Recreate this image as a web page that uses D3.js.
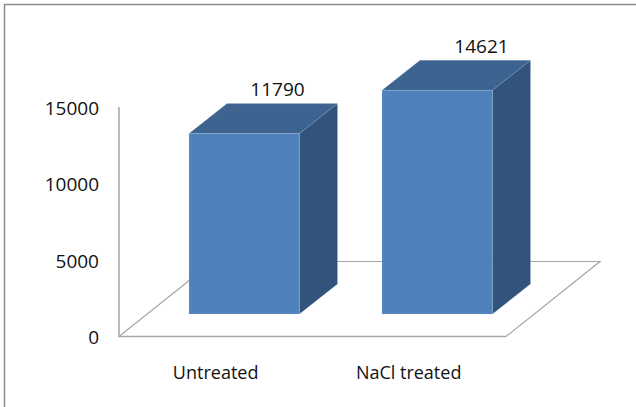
<!DOCTYPE html>
<html><head><meta charset="utf-8">
<script src="https://cdn.jsdelivr.net/npm/d3@7"></script>
<style>html,body{margin:0;padding:0;background:#fff}svg{display:block}text{font-family:"Open Sans",sans-serif;fill:#111}</style>
</head><body><svg id="c" width="636" height="407"></svg>
<script>
const categories = ["Untreated", "NaCl treated"];
const values = [11790, 14621];
const yTicks = [0, 5000, 10000, 15000];

const svg = d3.select("#c");
const W = 636, H = 407;
const axisX = 119, floorY = 336.5, topY = 107;
const depthX = 38, depthY = 30;        // oblique projection of the depth axis
const frontBase = 314;                 // baseline of the bars' front faces
const y = d3.scaleLinear().domain([0, 15000]).range([floorY, topY]);
const x = d3.scaleBand().domain(categories).range([150.4, 531.1]).paddingInner(0.4275).paddingOuter(0.2);
const hOf = v => floorY - y(v);
const line = d3.line();
const grey = "#a6a6a6";
const labelDx = [-22, -11];

// chart frame
svg.append("path").attr("d", line([[4.5, H], [4.5, 4.5], [W, 4.5]]))
  .attr("fill", "none").attr("stroke", "#8c8c8c").attr("stroke-width", 1.5);

// floor & wall edges
const floorRight = 506;
svg.append("path").attr("d", line([[axisX, floorY], [floorRight, floorY], [600, 261.5], [axisX + 94, 261.5]]))
  .attr("fill", "none").attr("stroke", grey).attr("stroke-width", 1.2);
svg.append("path").attr("d", line([[axisX, floorY], [axisX + 94, 261.5]]))
  .attr("fill", "none").attr("stroke", grey).attr("stroke-width", 1.2);
svg.append("path").attr("d", line([[axisX, topY], [axisX, floorY], [floorRight, floorY]]))
  .attr("fill", "none").attr("stroke", grey).attr("stroke-width", 1.5);

// y axis labels
const yAxis = d3.axisLeft(y).tickValues(yTicks).tickSize(0).tickPadding(20).tickFormat(d3.format("d"));
const ga = svg.append("g").attr("transform", `translate(${axisX},1)`).call(yAxis);
ga.select(".domain").remove();
ga.selectAll("text").attr("font-size", 19);

// bars
const bars = svg.selectAll("g.bar").data(values).join("g").attr("class", "bar");
bars.each(function (v, i) {
  const g = d3.select(this);
  const x0 = x(categories[i]), x1 = x0 + x.bandwidth();
  const t = frontBase - hOf(v), b = frontBase;
  const edge = { stroke: "#b8cce4", "stroke-opacity": 0.22, "stroke-width": 0.8 };
  const top = g.append("path").attr("fill", "#3d6390").attr("d", line([[x0, t], [x0 + depthX, t - depthY], [x1 + depthX, t - depthY], [x1, t]]) + "Z");
  const side = g.append("path").attr("fill", "#32547c").attr("d", line([[x1, t], [x1 + depthX, t - depthY], [x1 + depthX, b - depthY], [x1, b]]) + "Z");
  const front = g.append("rect").attr("x", x0).attr("y", t).attr("width", x.bandwidth()).attr("height", b - t).attr("fill", "#4f81bd");
  [top, side, front].forEach(s => Object.entries(edge).forEach(([k, val]) => s.attr(k, val)));
  g.append("text").attr("x", x1 + labelDx[i]).attr("y", t - depthY - 7.5).attr("text-anchor", "middle").attr("font-size", 19).text(v);
});

// category labels
svg.selectAll("text.cat").data(categories).join("text").attr("class", "cat")
  .attr("x", d => x(d) + x.bandwidth() / 2 - 28.6)
  .attr("y", 379).attr("text-anchor", "middle").attr("font-size", 18).text(d => d);
</script></body></html>
